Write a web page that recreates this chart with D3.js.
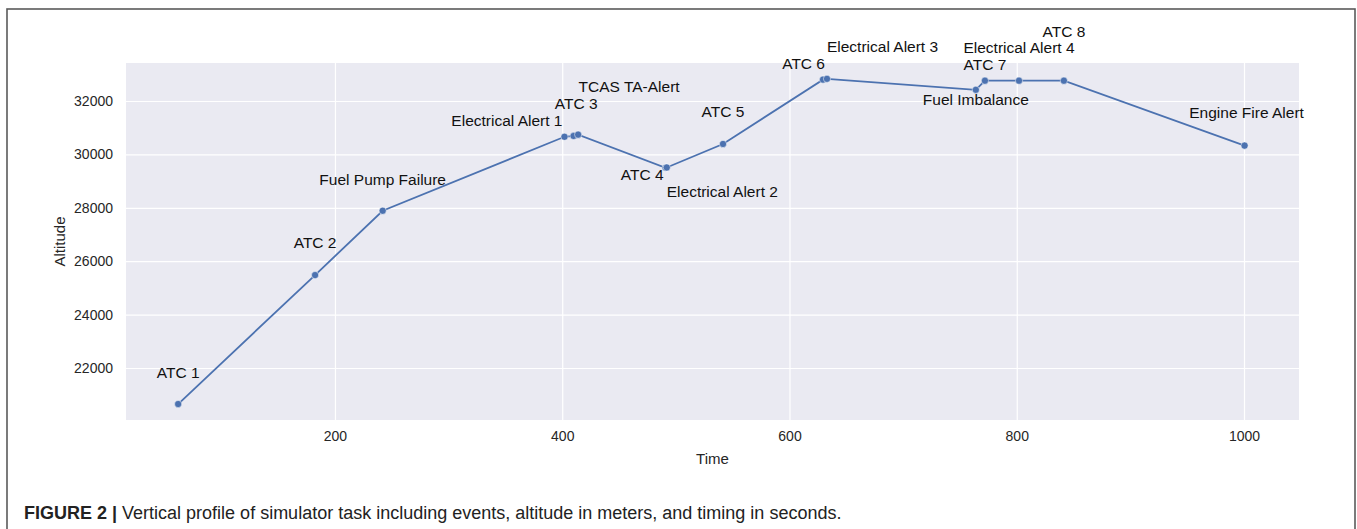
<!DOCTYPE html>
<html>
<head>
<meta charset="utf-8">
<script src="https://cdn.jsdelivr.net/npm/d3@7"></script>
<style>
  html, body { margin: 0; padding: 0; background: #fff; }
  svg { display: block; font-family: "Liberation Sans", Arial, sans-serif; }
</style>
</head>
<body>
<svg id="chart" width="1357" height="529"></svg>
<script>
// ---- data ----
const eventNames = ["ATC 1", "ATC 2", "Fuel Pump Failure", "Electrical Alert 1", "TCAS TA-Alert", "ATC 3",
  "ATC 4", "Electrical Alert 2", "ATC 5", "ATC 6", "Electrical Alert 3", "Fuel Imbalance",
  "ATC 7", "Electrical Alert 4", "ATC 8", "Engine Fire Alert"];
const eventTimes = [62, 182.5, 242, 402, 410, 414, 491, 492, 541.5, 629.5, 633, 764, 772, 802, 841.5, 1000.5];
const eventAltitudes = [20650, 25480, 27890, 30660, 30690, 30740, 29500, 29510, 30390, 32800, 32830, 32420, 32760, 32760, 32760, 30330];
const xTicks = [200, 400, 600, 800, 1000];
const yTicks = [22000, 24000, 26000, 28000, 30000, 32000];

// ---- label layout (anchor, pixel offsets from the point) ----
const labelAnchor = ["middle", "middle", "middle", "end", "start", "middle", "end", "start", "middle", "end", "start", "middle", "middle", "middle", "middle", "middle"];
const labelDx = [0, 0, 0, -2, 5, -2, -2, 0, 0, 2, 0, 0, 0, 0, 0, 2];
const labelDy = [-32, -33, -31, -16, -49, -31, 7, 24, -32, -16, -32, 10, -16, -33, -49, -33];

const svg = d3.select("#chart");
const plot = { left: 126, right: 1299, top: 63, bottom: 420 };

const x = d3.scaleLinear().domain([16.1, 1048.4]).range([plot.left, plot.right]);
const y = d3.scaleLinear().domain([20052, 33423]).range([plot.bottom, plot.top]);

// outer frame
svg.append("rect").attr("x", 7).attr("y", 9).attr("width", 1348).attr("height", 530)
  .attr("fill", "none").attr("stroke", "#5a5a5a").attr("stroke-width", 1.6);

// plot background
svg.append("rect").attr("x", plot.left).attr("y", plot.top)
  .attr("width", plot.right - plot.left).attr("height", plot.bottom - plot.top)
  .attr("fill", "#eaeaf2");

// grid via axes
const gx = svg.append("g").attr("transform", `translate(0,${plot.bottom})`)
  .call(d3.axisBottom(x).tickValues(xTicks).tickSize(-(plot.bottom - plot.top)).tickPadding(11).tickFormat(d3.format("d")));
const gy = svg.append("g").attr("transform", `translate(${plot.left},0)`)
  .call(d3.axisLeft(y).tickValues(yTicks).tickSize(-(plot.right - plot.left)).tickPadding(13).tickFormat(d3.format("d")));
[gx, gy].forEach(g => {
  g.select(".domain").remove();
  g.selectAll(".tick line").attr("stroke", "#ffffff").attr("stroke-width", 1.2);
  g.selectAll(".tick text").attr("fill", "#262626").style("font-size", "14px");
});

// axis titles
svg.append("text").attr("x", (plot.left + plot.right) / 2).attr("y", 458)
  .attr("text-anchor", "middle").attr("dominant-baseline", "central")
  .attr("fill", "#262626").style("font-size", "15px").text("Time");
svg.append("text").attr("transform", `translate(59,${(plot.top + plot.bottom) / 2}) rotate(-90)`)
  .attr("text-anchor", "middle").attr("dominant-baseline", "central")
  .attr("fill", "#262626").style("font-size", "15px").text("Altitude");

// line + markers
const pts = eventTimes.map((t, i) => ({ t, a: eventAltitudes[i], name: eventNames[i], i }));
const color = "#4c72b0";
svg.append("path").datum(pts)
  .attr("d", d3.line().x(d => x(d.t)).y(d => y(d.a)))
  .attr("fill", "none").attr("stroke", color).attr("stroke-width", 1.8);
svg.append("g").selectAll("circle").data(pts).join("circle")
  .attr("cx", d => x(d.t)).attr("cy", d => y(d.a)).attr("r", 3.6)
  .attr("fill", color).attr("stroke", "#ffffff").attr("stroke-width", 0.5);

// event labels
svg.append("g").selectAll("text").data(pts).join("text")
  .attr("x", d => x(d.t) + labelDx[d.i]).attr("y", d => y(d.a) + labelDy[d.i])
  .attr("text-anchor", d => labelAnchor[d.i]).attr("dominant-baseline", "central")
  .attr("fill", "#111111").style("font-size", "15.5px").text(d => d.name);

// caption
const cap = svg.append("text").attr("x", 24).attr("y", 519).style("font-size", "18px").attr("fill", "#222");
cap.append("tspan").attr("font-weight", "bold").text("FIGURE 2 | ");
cap.append("tspan").text("Vertical profile of simulator task including events, altitude in meters, and timing in seconds.");
</script>
</body>
</html>
